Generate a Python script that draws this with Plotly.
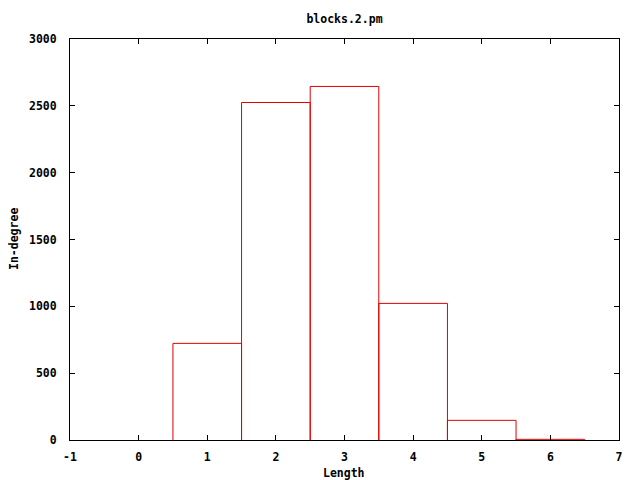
import plotly.graph_objects as go

lengths = [1, 2, 3, 4, 5, 6]
in_degree = [723, 2525, 2645, 1022, 147, 5]
box_width = 1.0

x_ticks = [-1, 0, 1, 2, 3, 4, 5, 6, 7]
y_ticks = [0, 500, 1000, 1500, 2000, 2500, 3000]

font = dict(family="DejaVu Sans Mono", size=11.5, color="black", weight="bold")

# outline of gnuplot-style boxes: up the left side, across the top, down the right side
px, py = [], []
for x, y in zip(lengths, in_degree):
    l, r = x - box_width / 2, x + box_width / 2
    px += [l, l, r, r, None]
    py += [0, y, y, 0, None]

fig = go.Figure()
fig.add_trace(go.Scatter(
    x=px, y=py, mode="lines", line=dict(color="#e00000", width=1),
    showlegend=False, hoverinfo="skip",
))

axis_common = dict(
    showline=True, linecolor="black", linewidth=1, mirror="ticks",
    ticks="inside", ticklen=5, tickcolor="black", showgrid=False,
    zeroline=False, tickfont=font, layer="above traces", automargin=False,
)

# the page body adds an 8px offset; figure is sized so the plot area lands where the reference has it
W, H = 632, 472
L, R, T, B = 62, W - 611, 31, H - 432
pw, ph = W - L - R, H - T - B

fig.update_layout(
    width=W, height=H,
    paper_bgcolor="white", plot_bgcolor="white",
    margin=dict(l=L, r=R, t=T, b=B),
    title=dict(text="blocks.2.pm", x=336.5 / W, xanchor="center",
               y=1 - 11 / H, yanchor="middle", font=font),
    xaxis=dict(range=[-1, 7], tickvals=x_ticks, ticktext=[str(v) for v in x_ticks],
               ticklabelstandoff=6, **axis_common),
    yaxis=dict(range=[0, 3000], tickvals=y_ticks, ticktext=[str(v) for v in y_ticks],
               ticklabelstandoff=10, **axis_common),
    annotations=[
        dict(text="Length", xref="paper", yref="paper",
             x=(336 - L) / pw, y=(432 - 465) / ph, xanchor="center", yanchor="middle",
             showarrow=False, font=font),
        dict(text="In-degree", xref="paper", yref="paper", textangle=-90,
             x=(6 - L) / pw, y=(432 - 231) / ph, xanchor="center", yanchor="middle",
             showarrow=False, font=font),
    ],
)

fig.write_html("out.html")
